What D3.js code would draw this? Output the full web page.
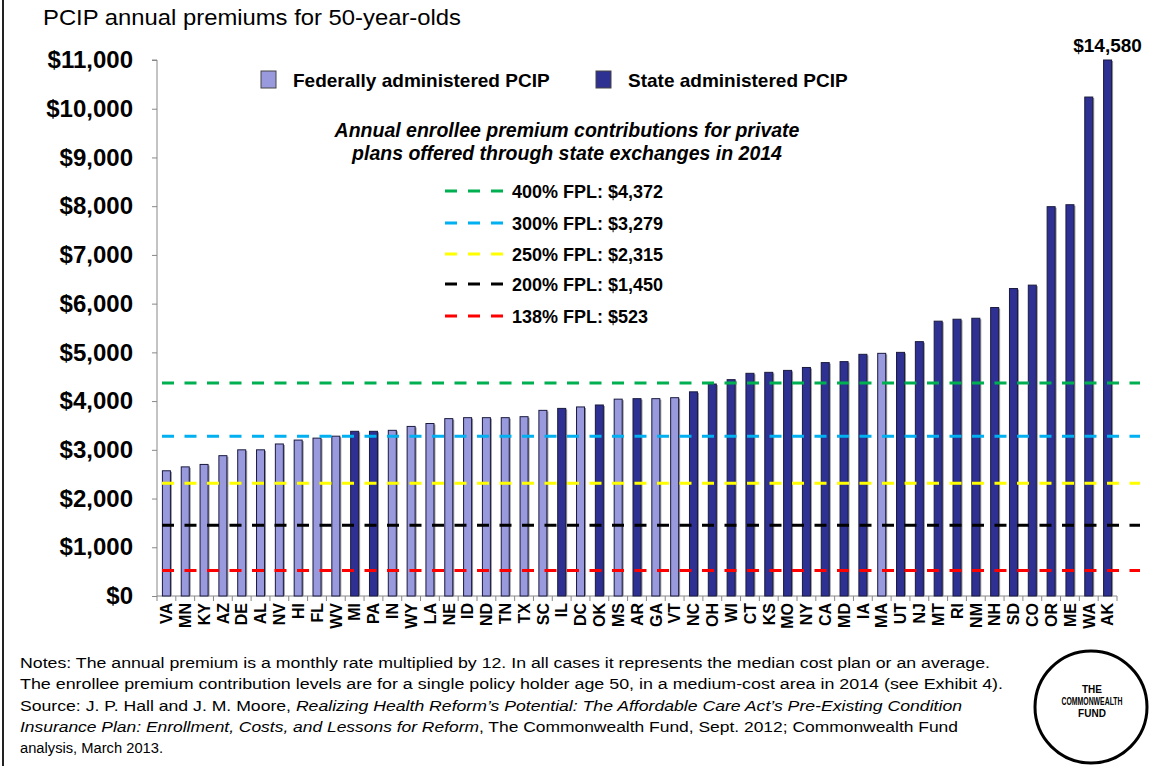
<!DOCTYPE html>
<html>
<head>
<meta charset="utf-8">
<script src="https://cdn.jsdelivr.net/npm/d3@7"></script>
<style>
  body { margin: 0; background: #fff; }
  text { font-family: Arial, "Liberation Sans", sans-serif; }
</style>
</head>
<body>
<script>
// state abbreviations, sorted by premium
var states = ["VA", "MN", "KY", "AZ", "DE", "AL", "NV", "HI", "FL", "WV", "MI", "PA", "IN", "WY", "LA", "NE", "ID",
    "ND", "TN", "TX", "SC", "IL", "DC", "OK", "MS", "AR", "GA", "VT", "NC", "OH", "WI", "CT", "KS", "MO", "NY", "CA",
    "MD", "IA", "MA", "UT", "NJ", "MT", "RI", "NM", "NH", "SD", "CO", "OR", "ME", "WA", "AK"];

var premiums = [2570, 2650, 2700, 2880, 3000, 3000, 3120, 3200, 3240, 3280, 3380, 3380, 3400, 3480, 3540, 3640, 3660,
    3660, 3660, 3680, 3810, 3850, 3880, 3920, 4040, 4050, 4050, 4070, 4190, 4350, 4440, 4570, 4590, 4630, 4690, 4790,
    4810, 4960, 4980, 5000, 5220, 5640, 5680, 5700, 5920, 6310, 6380, 7990, 8030, 10240, 14580];

// F = federally administered, S = state administered
var admin = ["F", "F", "F", "F", "F", "F", "F", "F", "F", "F", "S", "S", "F", "F", "F", "F", "F",
    "F", "F", "F", "F", "S", "F", "S", "F", "S", "F", "F", "S", "S", "S", "S", "S", "S", "S", "S",
    "S", "S", "F", "S", "S", "S", "S", "S", "S", "S", "S", "S", "S", "S", "S"];

var fplLabels = ["400% FPL: $4,372", "300% FPL: $3,279", "250% FPL: $2,315", "200% FPL: $1,450", "138% FPL: $523"];
var fplValues = [4372, 3279, 2315, 1450, 523];

var yTicks = [0, 1000, 2000, 3000, 4000, 5000, 6000, 7000, 8000, 9000, 10000, 11000];

var notes = [
    [["Notes: The annual premium is a monthly rate multiplied by 12. In all cases it represents the median cost plan or an average.", false]],
    [["The enrollee premium contribution levels are for a single policy holder age 50, in a medium-cost area in 2014 (see Exhibit 4).", false]],
    [["Source: J. P. Hall and J. M. Moore, ", false], ["Realizing Health Reform\u2019s Potential: The Affordable Care Act\u2019s Pre-Existing Condition", true]],
    [["Insurance Plan: Enrollment, Costs, and Lessons for Reform", true], [", The Commonwealth Fund, Sept. 2012; Commonwealth Fund", false]],
    [["analysis, March 2013.", false]]
];
var noteWidths = [970, 983, 942, 938, 143];

var fedColor = "#9999dd";
var stateColor = "#2e3192";
var fplColors = ["#00b050", "#00b0f0", "#ffff00", "#000000", "#ff0000"];

var svgWidth = 1151;
var svgHeight = 766;

var svg = d3.select("body")
    .append("svg")
    .attr("width", svgWidth)
    .attr("height", svgHeight);

svg.append("rect").attr("width", svgWidth).attr("height", svgHeight).attr("fill", "#fff");

// slide frame on the left
svg.append("line")
    .attr("x1", 3).attr("x2", 3).attr("y1", 0).attr("y2", svgHeight)
    .attr("stroke", "#222").attr("stroke-width", 2);

// title
svg.append("text")
    .attr("x", 43).attr("y", 25)
    .attr("font-size", "22.5px")
    .attr("textLength", 418)
    .attr("lengthAdjust", "spacingAndGlyphs")
    .text("PCIP annual premiums for 50-year-olds");

var plotLeft = 157, plotRight = 1117, plotTop = 60, plotBottom = 596;

var x = d3.scaleBand()
    .domain(states)
    .range([plotLeft, plotRight])
    .paddingInner(0.575)
    .paddingOuter(0.2875);

var y = d3.scaleLinear()
    .domain([0, 11000])
    .range([plotBottom, plotTop])
    .clamp(true);

// y axis
var leftAxis = d3.axisLeft(y)
    .tickValues(yTicks)
    .tickSize(5)
    .tickPadding(19)
    .tickFormat(function (d) { return "$" + d3.format(",")(d); });

var yAxisG = svg.append("g")
    .attr("transform", `translate(${plotLeft}, 0)`)
    .call(leftAxis);
yAxisG.select(".domain").attr("stroke", "#888").attr("d", `M-5,${plotTop}H0V${plotBottom}`);
yAxisG.selectAll(".tick line").attr("stroke", "#888");
yAxisG.selectAll(".tick text")
    .attr("font-size", "24px")
    .attr("font-weight", "bold")
    .attr("font-family", "Arial, 'Liberation Sans', sans-serif")
    .attr("fill", "#000");

// x axis
var bottomAxis = d3.axisBottom(x).tickSize(0).tickPadding(7);
var xAxisG = svg.append("g")
    .attr("transform", `translate(0, ${plotBottom})`)
    .call(bottomAxis);
xAxisG.select(".domain").attr("stroke", "#888").attr("d", `M${plotLeft},0H${plotRight}`);
xAxisG.selectAll(".tick text")
    .attr("font-size", "16px")
    .attr("font-weight", "bold")
    .attr("font-family", "Arial, 'Liberation Sans', sans-serif")
    .attr("fill", "#000")
    .attr("text-anchor", "end")
    .attr("transform", "rotate(-90)")
    .attr("x", -7)
    .attr("y", 0)
    .attr("dy", "0.36em");

// category separator ticks
xAxisG.selectAll(".sep")
    .data(d3.range(states.length + 1))
    .enter()
    .append("line")
    .attr("x1", i => plotLeft + i * x.step())
    .attr("x2", i => plotLeft + i * x.step())
    .attr("y1", 0).attr("y2", 5)
    .attr("stroke", "#888");

var data = states.map(function (s, i) {
    return { state: s, premium: premiums[i], admin: admin[i] };
});

// bar shadows
svg.append("g").selectAll("rect")
    .data(data)
    .enter()
    .append("rect")
    .attr("x", d => x(d.state) + 1.5)
    .attr("y", d => y(d.premium) + 1)
    .attr("width", x.bandwidth())
    .attr("height", d => plotBottom - y(d.premium) - 1)
    .attr("fill", "#999");

// bars
svg.append("g").selectAll("rect")
    .data(data)
    .enter()
    .append("rect")
    .attr("x", d => x(d.state))
    .attr("y", d => y(d.premium))
    .attr("width", x.bandwidth())
    .attr("height", d => plotBottom - y(d.premium))
    .attr("fill", d => d.admin === "F" ? fedColor : stateColor)
    .attr("stroke", "#1a1a40")
    .attr("stroke-width", 1);

// AK value above clipped bar
var last = data[data.length - 1];
svg.append("text")
    .attr("x", x(last.state) + x.bandwidth() / 2)
    .attr("y", 52)
    .attr("text-anchor", "middle")
    .attr("font-size", "19px")
    .attr("font-weight", "bold")
    .text("$" + d3.format(",")(last.premium));

// FPL reference lines
svg.append("g").selectAll("line")
    .data(fplValues)
    .enter()
    .append("line")
    .attr("x1", plotLeft).attr("x2", 1140)
    .attr("y1", d => y(d)).attr("y2", d => y(d))
    .attr("stroke", (d, i) => fplColors[i])
    .attr("stroke-width", 3)
    .attr("stroke-dasharray", "12,10.5")
    .attr("stroke-dashoffset", -5);

// bar legend
var legend = [["Federally administered PCIP", fedColor, 261], ["State administered PCIP", stateColor, 596]];
legend.forEach(function (l) {
    svg.append("rect")
        .attr("x", l[2]).attr("y", 71)
        .attr("width", 15).attr("height", 17)
        .attr("fill", l[1]).attr("stroke", "#444");
    svg.append("text")
        .attr("x", l[2] + 32).attr("y", 87)
        .attr("font-size", "19px").attr("font-weight", "bold")
        .text(l[0]);
});

// subtitle for reference lines
svg.append("text")
    .attr("x", 567).attr("y", 137)
    .attr("text-anchor", "middle")
    .attr("font-size", "19.5px").attr("font-weight", "bold").attr("font-style", "italic")
    .text("Annual enrollee premium contributions for private");
svg.append("text")
    .attr("x", 567).attr("y", 160)
    .attr("text-anchor", "middle")
    .attr("font-size", "19.5px").attr("font-weight", "bold").attr("font-style", "italic")
    .text("plans offered through state exchanges in 2014");

var fplLegendY = [191, 223, 254, 284, 316];
fplLabels.forEach(function (lab, i) {
    svg.append("line")
        .attr("x1", 445).attr("x2", 503)
        .attr("y1", fplLegendY[i]).attr("y2", fplLegendY[i])
        .attr("stroke", fplColors[i]).attr("stroke-width", 3)
        .attr("stroke-dasharray", "12,11");
    svg.append("text")
        .attr("x", 512).attr("y", fplLegendY[i] + 7)
        .attr("font-size", "18px").attr("font-weight", "bold")
        .text(lab);
});

// notes
notes.forEach(function (line, i) {
    var t = svg.append("text")
        .attr("x", 20).attr("y", 668 + i * 21.3)
        .attr("font-size", "15.5px");
    if (noteWidths[i]) t.attr("textLength", noteWidths[i]).attr("lengthAdjust", "spacingAndGlyphs");
    line.forEach(function (seg) {
        t.append("tspan")
            .attr("font-style", seg[1] ? "italic" : "normal")
            .text(seg[0]);
    });
});

// Commonwealth Fund logo
svg.append("circle")
    .attr("cx", 1091).attr("cy", 707).attr("r", 56)
    .attr("fill", "none").attr("stroke", "#000").attr("stroke-width", 3);
[["THE", 693, 0], ["COMMONWEALTH", 705, 61], ["FUND", 717, 0]].forEach(function (l) {
    var t = svg.append("text")
        .attr("x", 1092).attr("y", l[1])
        .attr("text-anchor", "middle")
        .attr("font-size", "10px").attr("font-weight", "bold")
        .text(l[0]);
    if (l[2]) t.attr("textLength", l[2]).attr("lengthAdjust", "spacingAndGlyphs");
});
</script>
</body>
</html>
